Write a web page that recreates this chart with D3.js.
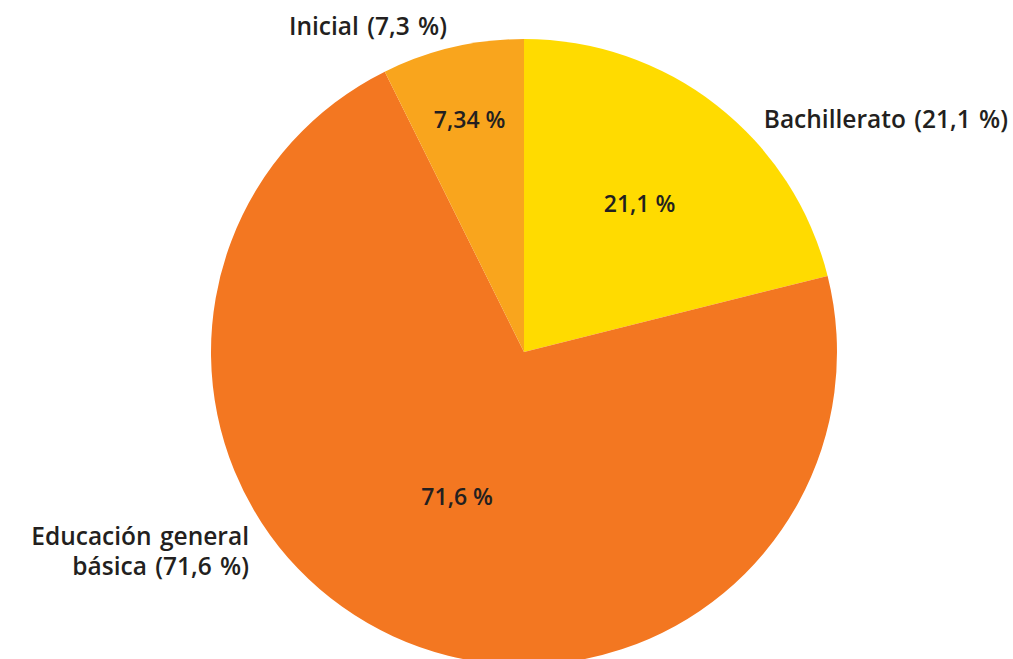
<!DOCTYPE html>
<html>
<head>
<meta charset="utf-8">
<script src="https://cdn.jsdelivr.net/npm/d3@7"></script>
<style>
  body { margin: 0; background: #fff; }
  text { font-family: "Open Sans", sans-serif; font-weight: 600; fill: #231f20; }
</style>
</head>
<body>
<svg id="chart" width="1013" height="659"></svg>
<script>
// data
const categories = ['Bachillerato', 'Educación general básica', 'Inicial'];
const values = [21.1, 71.6, 7.34];
const innerLabels = ['21,1 %', '71,6 %', '7,34 %'];
const outerLabels = [['Bachillerato (21,1 %)'], ['Educación general', 'básica (71,6 %)'], ['Inicial (7,3 %)']];
const colors = ['#ffdb00', '#f37721', '#f9a51d'];

const svg = d3.select('#chart');
const cx = 524, cy = 352, radius = 313;

const g = svg.append('g')
  .attr('transform', `translate(${cx},${cy})`);

const pie = d3.pie().sort(null).value(d => d);
const arcs = pie(values);

const arc = d3.arc().innerRadius(0).outerRadius(radius);

g.selectAll('path.slice')
  .data(arcs)
  .enter().append('path')
    .attr('class', 'slice')
    .attr('d', arc)
    .attr('fill', (d, i) => colors[i]);

// inner labels sit at different depths in the original
const labelDepth = [0.6, 0.51, 0.76];
g.selectAll('text.inner')
  .data(arcs)
  .enter().append('text')
    .attr('class', 'inner')
    .attr('text-anchor', 'middle')
    .attr('font-size', 23)
    .attr('transform', (d, i) => {
      const r = radius * labelDepth[i];
      const a = (d.startAngle + d.endAngle) / 2;
      return `translate(${r * Math.sin(a)},${-r * Math.cos(a) + 8})`;
    })
    .text((d, i) => innerLabels[i]);

// outer labels
const outerPos = [
  { x: 1008, y: 128, anchor: 'end' },
  { x: 249, y: 545, anchor: 'end' },
  { x: 368, y: 35, anchor: 'middle' }
];
outerLabels.forEach((lines, i) => {
  const t = svg.append('text')
    .attr('class', 'outer')
    .attr('font-size', 24.5)
    .attr('word-spacing', 2)
    .attr('text-anchor', outerPos[i].anchor)
    .attr('x', outerPos[i].x)
    .attr('y', outerPos[i].y);
  lines.forEach((line, j) => {
    t.append('tspan')
      .attr('x', outerPos[i].x)
      .attr('dy', j === 0 ? 0 : 30)
      .text(line);
  });
});
</script>
</body>
</html>
